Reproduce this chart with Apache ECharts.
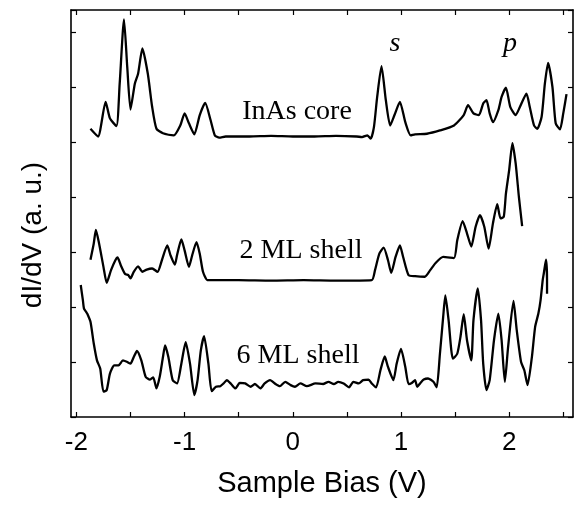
<!DOCTYPE html>
<html>
<head>
<meta charset="utf-8">
<script src="https://cdn.jsdelivr.net/npm/echarts@6/dist/echarts.min.js"></script>
<style>
  html, body { margin: 0; padding: 0; background: #fff; }
  #main { width: 574px; height: 506px; }
</style>
</head>
<body>
<div id="main"></div>
<script>
// tick values
var xLabelValues = [-2, -1, 0, 1, 2];
var xTickValues = [-2, -1.5, -1, -0.5, 0, 0.5, 1, 1.5, 2, 2.5];

// InAs core (offset upward)
var coreBias = [-1.87, -1.80, -1.73, -1.69, -1.63, -1.60, -1.56, -1.53, -1.50, -1.46, -1.43, -1.39, -1.34, -1.30, -1.26, -1.20, -1.10, -1.04, -1.00, -0.96, -0.91, -0.86, -0.81, -0.76, -0.72, -0.68, -0.62, -0.4, -0.2, 0, 0.2, 0.4, 0.59, 0.64, 0.69, 0.72, 0.75, 0.78, 0.82, 0.86, 0.90, 0.94, 0.99, 1.04, 1.09, 1.13, 1.24, 1.36, 1.49, 1.58, 1.62, 1.67, 1.72, 1.76, 1.79, 1.82, 1.85, 1.90, 1.93, 1.97, 2.01, 2.06, 2.10, 2.16, 2.19, 2.23, 2.26, 2.30, 2.33, 2.36, 2.40, 2.43, 2.47, 2.50, 2.53];
var coreDidv = [5.24, 5.10, 5.73, 5.43, 5.29, 6.06, 7.23, 6.36, 5.59, 6.06, 6.24, 6.70, 6.24, 5.64, 5.24, 5.16, 5.12, 5.30, 5.52, 5.34, 5.14, 5.49, 5.71, 5.40, 5.12, 5.08, 5.10, 5.10, 5.11, 5.10, 5.10, 5.11, 5.10, 5.09, 5.12, 5.06, 5.27, 5.82, 6.38, 5.76, 5.30, 5.49, 5.73, 5.36, 5.12, 5.14, 5.15, 5.21, 5.30, 5.49, 5.67, 5.52, 5.49, 5.70, 5.76, 5.52, 5.36, 5.58, 5.82, 5.99, 5.64, 5.49, 5.64, 5.88, 5.64, 5.30, 5.24, 5.46, 6.06, 6.44, 6.00, 5.34, 5.23, 5.52, 5.87];

// 2 ML shell
var ml2Bias = [-1.87, -1.84, -1.82, -1.79, -1.75, -1.72, -1.68, -1.64, -1.62, -1.59, -1.55, -1.52, -1.50, -1.47, -1.43, -1.39, -1.35, -1.30, -1.25, -1.21, -1.16, -1.13, -1.09, -1.07, -1.03, -1.00, -0.96, -0.93, -0.89, -0.86, -0.83, -0.79, -0.73, -0.5, -0.2, 0.1, 0.4, 0.73, 0.76, 0.80, 0.84, 0.88, 0.91, 0.95, 0.99, 1.02, 1.07, 1.13, 1.22, 1.27, 1.32, 1.39, 1.49, 1.52, 1.57, 1.61, 1.65, 1.69, 1.73, 1.77, 1.81, 1.85, 1.89, 1.92, 1.95, 1.97, 2.00, 2.03, 2.06, 2.09, 2.12];
var ml2Didv = [2.86, 3.15, 3.40, 3.15, 2.73, 2.44, 2.67, 2.85, 2.90, 2.76, 2.60, 2.58, 2.52, 2.64, 2.74, 2.64, 2.68, 2.70, 2.64, 2.85, 3.12, 2.94, 2.77, 2.94, 3.23, 3.03, 2.73, 2.94, 3.18, 2.97, 2.64, 2.49, 2.49, 2.49, 2.48, 2.49, 2.48, 2.49, 2.67, 2.97, 3.08, 2.85, 2.62, 2.91, 3.12, 2.91, 2.58, 2.56, 2.55, 2.67, 2.80, 2.91, 2.89, 3.21, 3.56, 3.34, 3.10, 3.46, 3.67, 3.46, 3.06, 3.52, 3.87, 3.61, 3.64, 4.06, 4.49, 4.98, 4.61, 4.00, 3.47];

// 6 ML shell
var ml6Bias = [-1.96, -1.94, -1.93, -1.91, -1.90, -1.87, -1.84, -1.81, -1.78, -1.75, -1.72, -1.69, -1.65, -1.61, -1.57, -1.53, -1.50, -1.47, -1.44, -1.40, -1.36, -1.32, -1.29, -1.26, -1.23, -1.20, -1.18, -1.15, -1.11, -1.07, -1.03, -0.99, -0.95, -0.91, -0.88, -0.85, -0.82, -0.78, -0.75, -0.71, -0.67, -0.64, -0.61, -0.57, -0.53, -0.49, -0.44, -0.39, -0.35, -0.30, -0.26, -0.21, -0.16, -0.12, -0.07, -0.02, 0.02, 0.07, 0.13, 0.21, 0.28, 0.33, 0.38, 0.42, 0.47, 0.52, 0.56, 0.61, 0.65, 0.70, 0.73, 0.77, 0.81, 0.85, 0.88, 0.93, 0.96, 1.00, 1.04, 1.07, 1.10, 1.13, 1.15, 1.18, 1.21, 1.25, 1.30, 1.33, 1.36, 1.39, 1.41, 1.44, 1.48, 1.52, 1.55, 1.58, 1.61, 1.65, 1.67, 1.71, 1.74, 1.76, 1.79, 1.82, 1.86, 1.90, 1.93, 1.96, 1.99, 2.04, 2.07, 2.11, 2.14, 2.17, 2.21, 2.24, 2.27, 2.29, 2.31, 2.32, 2.34, 2.35, 2.35];
var ml6Didv = [2.40, 2.12, 1.97, 1.91, 1.88, 1.73, 1.34, 1.03, 0.88, 0.46, 0.49, 0.79, 0.94, 0.94, 1.03, 1.00, 0.97, 1.09, 1.20, 1.03, 0.73, 0.68, 0.72, 0.52, 0.73, 1.09, 1.30, 1.09, 0.67, 0.61, 0.97, 1.36, 0.97, 0.40, 0.67, 1.21, 1.47, 0.97, 0.47, 0.55, 0.56, 0.61, 0.67, 0.60, 0.52, 0.62, 0.61, 0.55, 0.60, 0.52, 0.61, 0.67, 0.60, 0.56, 0.64, 0.58, 0.55, 0.61, 0.56, 0.61, 0.60, 0.64, 0.60, 0.64, 0.61, 0.54, 0.64, 0.61, 0.67, 0.68, 0.61, 0.54, 0.85, 1.10, 0.91, 0.67, 0.97, 1.24, 0.91, 0.60, 0.62, 0.67, 0.55, 0.62, 0.68, 0.70, 0.64, 0.54, 1.15, 1.82, 2.21, 1.76, 1.06, 1.15, 1.46, 1.87, 1.40, 1.03, 1.76, 2.34, 1.76, 0.97, 0.49, 0.67, 1.40, 1.88, 1.40, 0.64, 1.27, 2.11, 1.58, 1.00, 0.85, 0.58, 1.09, 1.64, 1.88, 2.12, 2.49, 2.61, 2.86, 2.49, 2.24];

function pairs(xs, ys) {
  return xs.map(function (x, i) { return [x, ys[i]]; });
}

function curve(name, xs, ys) {
  return {
    type: 'line',
    name: name,
    data: pairs(xs, ys),
    smooth: 0.2,
    symbol: 'none',
    lineStyle: { color: '#000', width: 2.3 },
    animation: false
  };
}

var tickStyle = { color: '#000', width: 1.2 };
var frameLine = { show: true, onZero: false, lineStyle: { color: '#000', width: 1.6 } };

echarts.init(document.getElementById('main')).setOption({
  animation: false,
  grid: { left: 71, right: 1, top: 10, bottom: 89, containLabel: false, outerBoundsMode: 'none' },
  xAxis: [{
    type: 'value',
    min: -2.05,
    max: 2.59,
    position: 'bottom',
    name: 'Sample Bias (V)',
    nameLocation: 'middle',
    nameGap: 52,
    nameTextStyle: { fontFamily: 'Liberation Sans', fontSize: 29, color: '#000' },
    axisLine: frameLine,
    splitLine: { show: false },
    axisTick: { inside: true, length: 5, lineStyle: tickStyle, customValues: xTickValues },
    axisLabel: {
      customValues: xLabelValues,
      fontFamily: 'Liberation Sans',
      fontSize: 26,
      color: '#000',
      margin: 13
    }
  }, {
    type: 'value',
    min: -2.05,
    max: 2.59,
    position: 'top',
    axisLine: frameLine,
    splitLine: { show: false },
    axisTick: { inside: true, length: 5, lineStyle: tickStyle, customValues: xTickValues },
    axisLabel: { show: false }
  }],
  yAxis: [{
    type: 'value',
    min: 0,
    max: 7.4,
    interval: 1,
    position: 'left',
    axisLine: frameLine,
    splitLine: { show: false },
    axisTick: { inside: true, length: 5, lineStyle: tickStyle },
    axisLabel: { show: false }
  }, {
    type: 'value',
    min: 0,
    max: 7.4,
    interval: 1,
    position: 'right',
    axisLine: frameLine,
    splitLine: { show: false },
    axisTick: { inside: true, length: 5, lineStyle: tickStyle },
    axisLabel: { show: false }
  }],
  graphic: [
    { type: 'text', x: 33, y: 235, rotation: Math.PI / 2,
      style: { text: 'dI/dV (a. u.)', font: '28px "Liberation Sans"', fill: '#000', align: 'center', verticalAlign: 'middle' } },
    { type: 'text', x: 297, y: 112,
      style: { text: 'InAs core', font: '28px "Liberation Serif"', fill: '#000', align: 'center', verticalAlign: 'middle' } },
    { type: 'text', x: 301, y: 251,
      style: { text: '2 ML shell', font: '28px "Liberation Serif"', fill: '#000', align: 'center', verticalAlign: 'middle' } },
    { type: 'text', x: 298, y: 356,
      style: { text: '6 ML shell', font: '28px "Liberation Serif"', fill: '#000', align: 'center', verticalAlign: 'middle' } },
    { type: 'text', x: 395, y: 44,
      style: { text: 's', font: 'italic 28px "Liberation Serif"', fill: '#000', align: 'center', verticalAlign: 'middle' } },
    { type: 'text', x: 510, y: 44,
      style: { text: 'p', font: 'italic 28px "Liberation Serif"', fill: '#000', align: 'center', verticalAlign: 'middle' } }
  ],
  series: [
    curve('InAs core', coreBias, coreDidv),
    curve('2 ML shell', ml2Bias, ml2Didv),
    curve('6 ML shell', ml6Bias, ml6Didv)
  ]
});
</script>
</body>
</html>
